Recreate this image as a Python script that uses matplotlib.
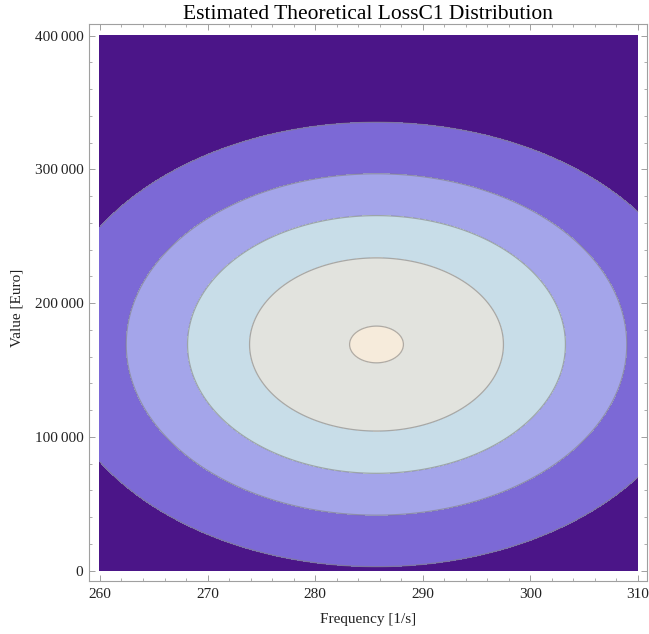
import numpy as np
import matplotlib
matplotlib.use("Agg")
import matplotlib.pyplot as plt
from matplotlib.ticker import MultipleLocator, FuncFormatter

# estimated parameters of the theoretical distribution
freq_mean = 285.7        # 1/s
freq_sd = 17.66
value_mean = 169000.0    # Euro
value_sd = 96900.0

freq_range = [260, 310]
value_range = [0, 400000]

# contour levels, relative to the peak density
contour_levels = [0.23, 0.42, 0.61, 0.80, 0.99]
band_colors = ["#4b1588", "#7c69d6", "#a4a5ea", "#c8dde8", "#e2e3de", "#f6ebdb"]

plt.rcParams['font.family'] = ['Liberation Serif', 'DejaVu Serif']

fx = np.linspace(freq_range[0], freq_range[1], 300)
vy = np.linspace(value_range[0], value_range[1], 300)
F, V = np.meshgrid(fx, vy)
Z = np.exp(-0.5 * ((F - freq_mean) / freq_sd) ** 2
           - 0.5 * ((V - value_mean) / value_sd) ** 2)

fig = plt.figure(figsize=(6.49, 6.34), dpi=100)
ax = fig.add_axes([89 / 649, 53 / 634, 558 / 649, 557 / 634])

levels = [0] + contour_levels + [1.01]
ax.contourf(F, V, Z, levels=levels, colors=band_colors)
ax.contour(F, V, Z, levels=contour_levels, colors="#808080",
           linewidths=0.9, alpha=0.6)

ax.set_xlim(258.98, 310.84)
ax.set_ylim(-7850, 408600)

ax.xaxis.set_major_locator(MultipleLocator(10))
ax.xaxis.set_minor_locator(MultipleLocator(2))
ax.yaxis.set_major_locator(MultipleLocator(100000))
ax.yaxis.set_minor_locator(MultipleLocator(20000))
ax.yaxis.set_major_formatter(FuncFormatter(
    lambda v, p: f"{int(round(v)):,}".replace(",", "\u2009")))

for s in ax.spines.values():
    s.set_color("#a0a0a0")
    s.set_linewidth(0.8)
ax.tick_params(which="both", direction="in", top=True, right=True,
               color="#a0a0a0", labelsize=11, labelcolor="#222222")
ax.tick_params(which="major", length=4, width=0.7)
ax.tick_params(which="minor", length=2, width=0.6)
ax.tick_params(axis="x", pad=5)
ax.tick_params(axis="y", pad=4)

ax.set_title("Estimated Theoretical LossC1 Distribution", fontsize=15.5, pad=3)
ax.set_xlabel("Frequency [1/s]", fontsize=11, color="#222222")
ax.set_ylabel("Value [Euro]", fontsize=11, color="#222222")
ax.xaxis.set_label_coords(0.5, -0.058)
ax.yaxis.set_label_coords(-0.118, 0.49)

fig.savefig("out.png", dpi=100)
